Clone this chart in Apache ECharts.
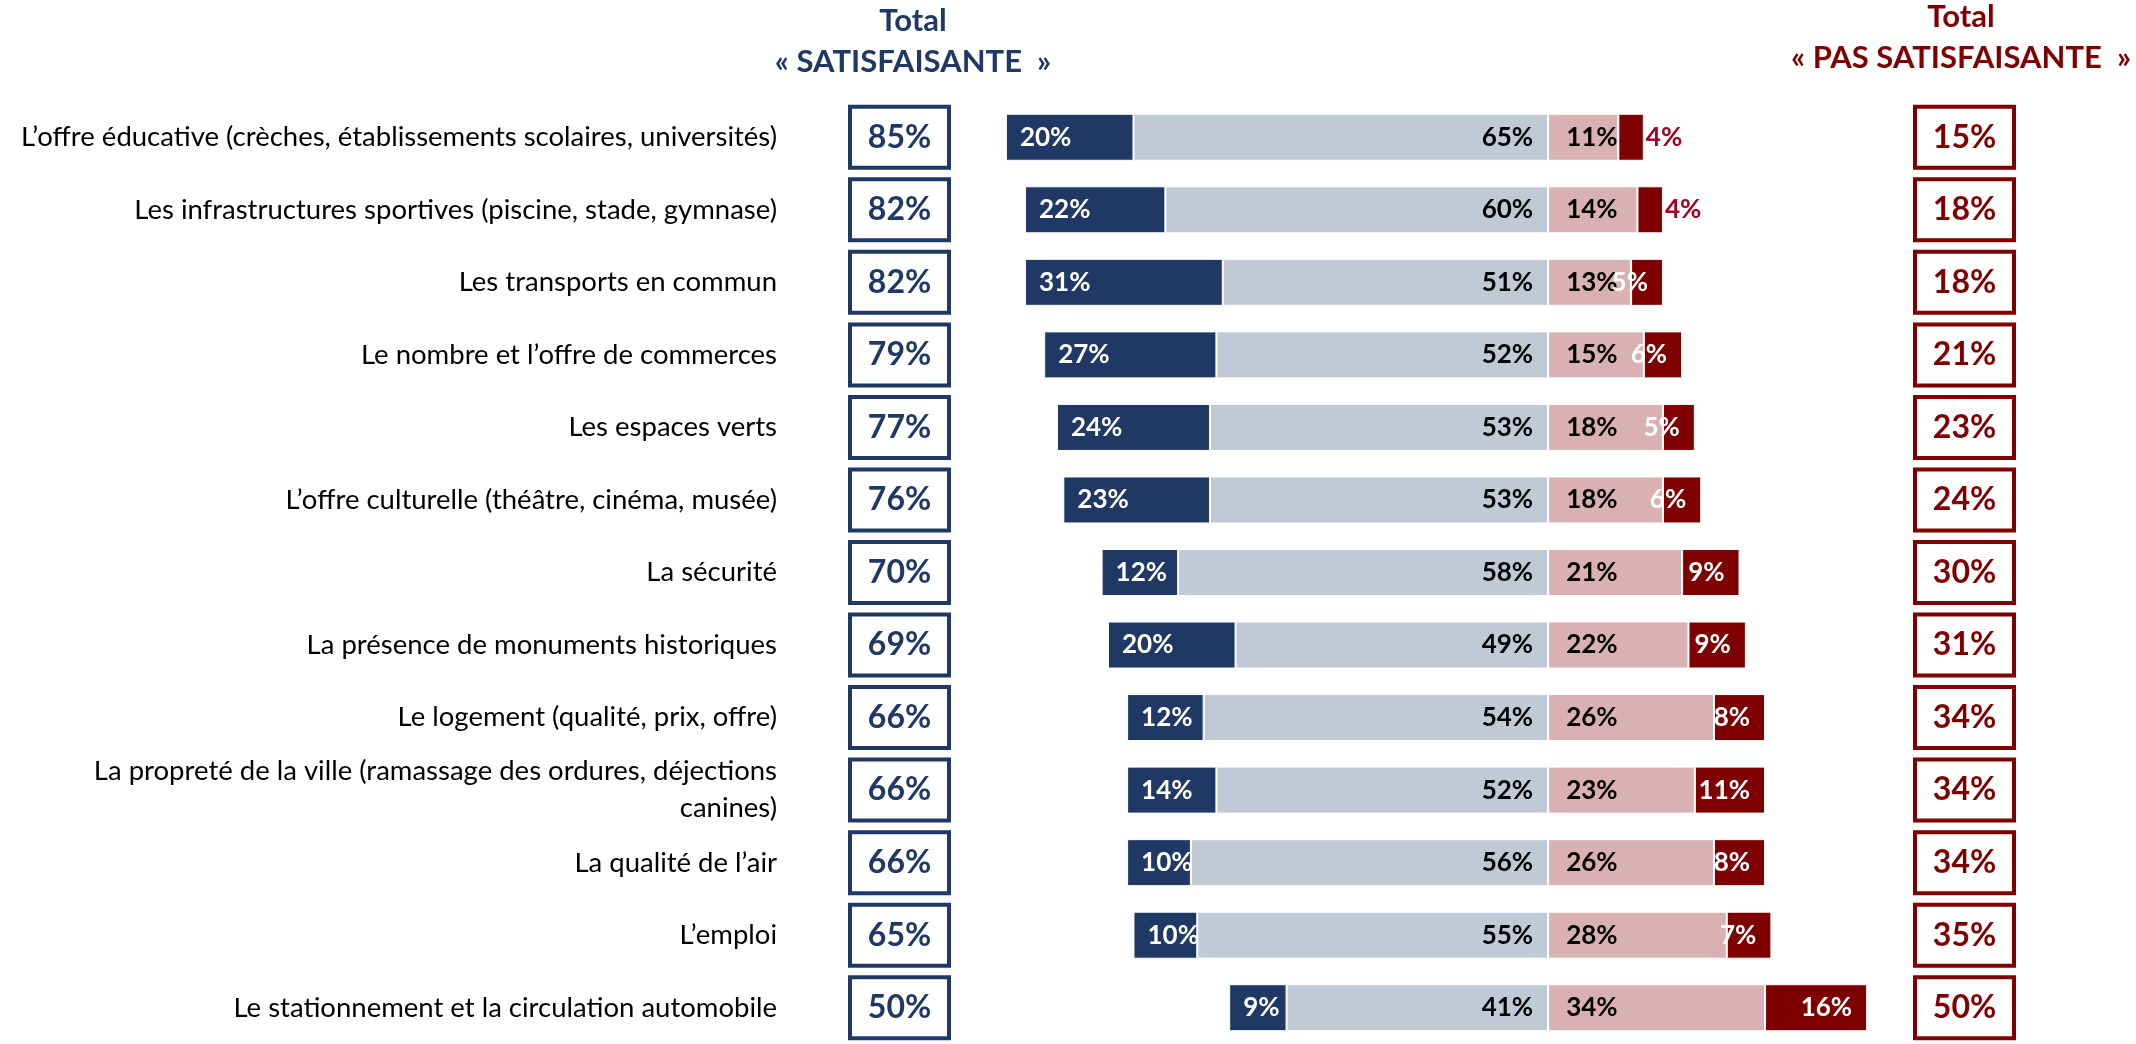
<!DOCTYPE html>
<html>
<head>
<meta charset="utf-8">
<title>Satisfaction</title>
<script src="https://cdn.jsdelivr.net/npm/echarts@6/dist/echarts.min.js"></script>
<style>
  html, body { margin: 0; padding: 0; background: #fff; }
  #chart { width: 2136px; height: 1044px; }
</style>
</head>
<body>
<div id="chart"></div>
<script>
// libellés des items (de haut en bas)
var items = [
  "L’offre éducative (crèches, établissements scolaires, universités)",
  "Les infrastructures sportives (piscine, stade, gymnase)",
  "Les transports en commun",
  "Le nombre et l’offre de commerces",
  "Les espaces verts",
  "L’offre culturelle (théâtre, cinéma, musée)",
  "La sécurité",
  "La présence de monuments historiques",
  "Le logement (qualité, prix, offre)",
  "La propreté de la ville (ramassage des ordures, déjections\ncanines)",
  "La qualité de l’air",
  "L’emploi",
  "Le stationnement et la circulation automobile"
];
var tresSatisf = [20, 22, 31, 27, 24, 23, 12, 20, 12, 14, 10, 10, 9];
var plutotSatisf = [65, 60, 51, 52, 53, 53, 58, 49, 54, 52, 56, 55, 41];
var plutotPasSatisf = [11, 14, 13, 15, 18, 18, 21, 22, 26, 23, 26, 28, 34];
var pasDuToutSatisf = [4, 4, 5, 6, 5, 6, 9, 9, 8, 11, 8, 7, 16];
var totalSatisf = [85, 82, 82, 79, 77, 76, 70, 69, 66, 66, 66, 65, 50];
var totalPasSatisf = [15, 18, 18, 21, 23, 24, 30, 31, 34, 34, 34, 35, 50];

var NAVY = "#203864";
var GREY = "#C0CAD7";
var PINK = "#DAB1B2";
var RED = "#7F0000";
var FONT = "Lato";

var chart = echarts.init(document.getElementById("chart"));

function pct(p) {
  return Math.abs(p.value) + "%";
}

function barLabel(pos, color, dist) {
  return {
    show: true,
    position: pos,
    distance: dist,
    color: color,
    fontFamily: FONT,
    fontWeight: "bold",
    fontSize: 26,
    formatter: pct
  };
}

function boxAxis(values, pos, color, margin) {
  return {
    type: "category",
    position: pos,
    inverse: true,
    data: values.map(function (v) { return v + "%"; }),
    axisLine: { show: false },
    axisTick: { show: false },
    axisLabel: {
      interval: 0,
      margin: margin,
      formatter: function (v) { return "{b|" + v + "}"; },
      rich: {
        b: {
          width: 99,
          height: 61,
          lineHeight: 61,
          align: "center",
          borderColor: color,
          borderWidth: 4,
          color: color,
          fontFamily: FONT,
          fontWeight: "bold",
          fontSize: 32
        }
      }
    }
  };
}

var option = {
  backgroundColor: "#fff",
  animation: false,
  title: [
    {
      text: "Total",
      subtext: "« SATISFAISANTE  »",
      left: 913,
      top: 5,
      padding: 0,
      itemGap: 10,
      textAlign: "center",
      textStyle: { color: NAVY, fontFamily: FONT, fontWeight: "bold", fontSize: 31 },
      subtextStyle: { color: NAVY, fontFamily: FONT, fontWeight: "bold", fontSize: 31 }
    },
    {
      text: "Total",
      subtext: "« PAS SATISFAISANTE  »",
      left: 1961,
      top: 1,
      padding: 0,
      itemGap: 10,
      textAlign: "center",
      textStyle: { color: RED, fontFamily: FONT, fontWeight: "bold", fontSize: 31 },
      subtextStyle: { color: RED, fontFamily: FONT, fontWeight: "bold", fontSize: 31 }
    }
  ],
  grid: {
    left: 974,
    right: 237,
    top: 101,
    height: 951.6
  },
  xAxis: {
    type: "value",
    min: -90,
    max: 55,
    show: false
  },
  yAxis: [
    {
      type: "category",
      position: "left",
      inverse: true,
      data: items,
      axisLine: { show: false },
      axisTick: { show: false },
      axisLabel: {
        interval: 0,
        margin: 197,
        color: "#000",
        fontFamily: FONT,
        fontSize: 27.5,
        lineHeight: 37
      }
    },
    boxAxis(totalSatisf, "left", NAVY, 25),
    boxAxis(totalPasSatisf, "right", RED, 16)
  ],
  series: [
    {
      name: "Plutôt satisfaisante",
      type: "bar",
      stack: "total",
      barWidth: 47,
      data: plutotSatisf.map(function (v) { return -v; }),
      itemStyle: { color: GREY, borderColor: "#fff", borderWidth: 1 },
      label: barLabel("insideRight", "#000", 15)
    },
    {
      name: "Très satisfaisante",
      type: "bar",
      stack: "total",
      barWidth: 47,
      data: tresSatisf.map(function (v) { return -v; }),
      itemStyle: { color: NAVY, borderColor: "#fff", borderWidth: 1 },
      label: barLabel("insideLeft", "#fff", 14)
    },
    {
      name: "Plutôt pas satisfaisante",
      type: "bar",
      stack: "total",
      barWidth: 47,
      data: plutotPasSatisf,
      itemStyle: { color: PINK, borderColor: "#fff", borderWidth: 1 },
      label: barLabel("insideLeft", "#000", 18)
    },
    {
      name: "Pas du tout satisfaisante",
      type: "bar",
      stack: "total",
      barWidth: 47,
      // les petits segments ont leur étiquette à l'extérieur
      data: pasDuToutSatisf.map(function (v) {
        if (v < 5) {
          return { value: v, label: { position: "right", distance: 2, color: "#A50021" } };
        }
        return v;
      }),
      itemStyle: { color: RED, borderColor: "#fff", borderWidth: 1 },
      label: barLabel("insideRight", "#fff", 15)
    }
  ]
};

chart.setOption(option);
</script>
</body>
</html>
